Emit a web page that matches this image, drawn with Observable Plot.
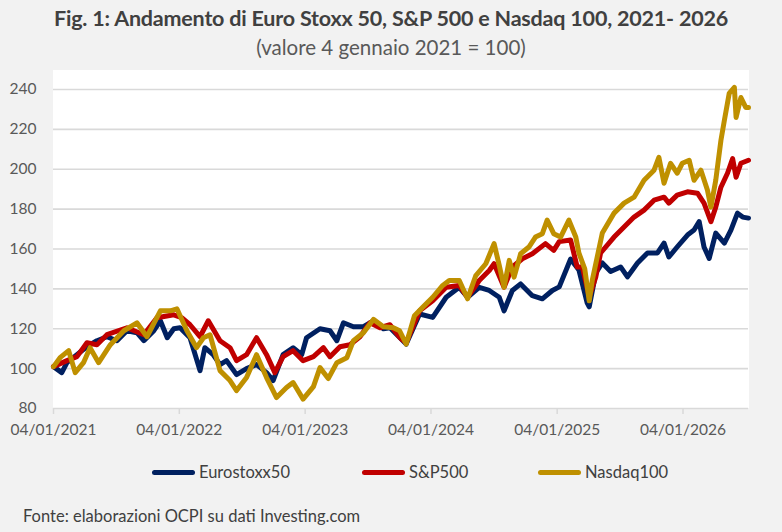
<!DOCTYPE html>
<html>
<head>
<meta charset="utf-8">
<script src="https://cdn.jsdelivr.net/npm/d3@7"></script>
<script src="https://cdn.jsdelivr.net/npm/@observablehq/plot@0.6"></script>
<style>
  html, body { margin: 0; padding: 0; background: #f2f2f2; }
  body { width: 782px; height: 532px; position: relative; overflow: hidden; font-family: Lato, "Open Sans", sans-serif; }
  #title { position: absolute; top: 5px; left: 0; width: 782px; text-align: center; font-size: 21.5px; font-weight: 700; color: #404040; letter-spacing: -0.2px; }
  #subtitle { position: absolute; top: 35px; left: 0; width: 782px; text-align: center; font-size: 20.5px; color: #595959; }
  #plotbg { position: absolute; left: 53px; top: 70px; width: 696px; height: 338px; background: #fff; }
  #chart { position: absolute; left: 0; top: 60px; }
  .leg { position: absolute; top: 462px; font-size: 16.5px; color: #404040; display: flex; align-items: center; }
  .sw { width: 43px; height: 5px; border-radius: 3px; margin-right: 4px; }
  #foot { position: absolute; left: 23px; top: 506px; font-size: 16.5px; color: #404040; }
</style>
</head>
<body>
<div id="title">Fig. 1: Andamento di Euro Stoxx 50, S&amp;P 500 e Nasdaq 100, 2021- 2026</div>
<div id="subtitle">(valore 4 gennaio 2021 = 100)</div>
<div id="plotbg"></div>
<div id="chart"></div>
<div class="leg" style="left:152px"><div class="sw" style="background:#002060"></div>Eurostoxx50</div>
<div class="leg" style="left:362px"><div class="sw" style="background:#C00000"></div>S&amp;P500</div>
<div class="leg" style="left:538px"><div class="sw" style="background:#BF9000"></div>Nasdaq100</div>
<div id="foot">Fonte: elaborazioni OCPI su dati Investing.com</div>
<script>
const seriesNames = ["Eurostoxx50", "S&P500", "Nasdaq100"];
const seriesColors = ["#002060", "#C00000", "#BF9000"];

const eurDates = ["2021-01-04","2021-01-28","2021-02-12","2021-03-13","2021-04-11","2021-05-10","2021-06-08","2021-07-07","2021-08-05","2021-09-03","2021-09-23","2021-10-22","2021-11-10","2021-11-30","2021-12-19","2022-01-06","2022-02-04","2022-03-05","2022-03-19","2022-04-12","2022-05-02","2022-05-21","2022-06-19","2022-07-18","2022-08-16","2022-09-14","2022-10-03","2022-11-01","2022-11-30","2022-12-25","2023-01-08","2023-02-16","2023-03-17","2023-04-06","2023-04-25","2023-05-24","2023-06-22","2023-07-21","2023-08-19","2023-09-07","2023-10-06","2023-10-24","2023-12-02","2024-01-09","2024-02-17","2024-03-26","2024-04-19","2024-05-23","2024-06-21","2024-07-20","2024-08-03","2024-08-27","2024-09-20","2024-10-24","2024-11-22","2024-12-21","2025-01-10","2025-02-12","2025-03-08","2025-04-01","2025-04-07","2025-04-26","2025-05-15","2025-06-08","2025-07-07","2025-07-27","2025-08-25","2025-09-23","2025-10-22","2025-11-10","2025-11-24","2025-12-18","2026-01-17","2026-02-05","2026-02-20","2026-03-06","2026-03-21","2026-04-09","2026-05-04","2026-05-23","2026-06-11","2026-06-26","2026-07-13"];
const eurValues = [101,98,103,107,111,114,116,114,119,118,114,119,124,115.5,120,120.5,115.5,99,110.5,107,102,104,97,100,102,98,94,107,110.5,107,115.5,120,119,114,123,121,121,124,120,120.5,115.5,112.3,127.4,125.7,135.8,140.8,135.8,140.8,139.2,135.8,129,139.2,142.5,136.6,135,139.2,141,155,149.5,133,131,148,153,148.7,151,146,153,158,158,163,156,161,167,169.5,173.7,161,155.3,168,163,169.5,178,176,175.5];

const spxDates = ["2021-01-04","2021-02-12","2021-03-13","2021-04-11","2021-05-10","2021-06-08","2021-08-05","2021-09-23","2021-10-31","2021-12-19","2022-01-11","2022-02-04","2022-03-05","2022-03-29","2022-05-02","2022-05-31","2022-06-19","2022-07-18","2022-08-16","2022-09-14","2022-10-08","2022-11-01","2022-11-30","2022-12-29","2023-01-28","2023-02-26","2023-03-17","2023-04-15","2023-05-14","2023-06-12","2023-07-11","2023-08-09","2023-09-07","2023-10-06","2023-10-24","2023-12-02","2024-01-09","2024-02-17","2024-03-26","2024-04-19","2024-05-23","2024-06-21","2024-07-05","2024-08-03","2024-08-27","2024-09-25","2024-10-24","2024-12-01","2024-12-25","2025-01-10","2025-02-12","2025-03-03","2025-03-18","2025-04-07","2025-04-26","2025-05-10","2025-06-18","2025-07-17","2025-08-15","2025-09-13","2025-10-12","2025-11-10","2025-11-24","2025-12-18","2026-01-17","2026-02-15","2026-03-06","2026-03-26","2026-04-09","2026-04-24","2026-05-13","2026-05-28","2026-06-07","2026-06-21","2026-07-13"];
const spxValues = [101,104,106,113,112,117,120.5,117,125.5,127,125.5,122,116,124,114,110.5,104,107,115.5,107,98,106,109,104,106,110.5,106,111,112,116,123,120.5,122,115.5,113,129,134,140.8,141.7,135.8,144.2,149.2,152.6,140.8,151,155.1,157.6,162.7,159.3,163.7,164.5,151,151,136,146,158,166,171,176,179.5,184.5,186,183,187,188.7,188,183,173.7,181,191,198,205.3,196,203,204.5];

const ndxDates = ["2021-01-04","2021-01-23","2021-02-17","2021-03-08","2021-04-01","2021-04-20","2021-05-15","2021-06-18","2021-07-27","2021-09-03","2021-10-02","2021-11-10","2021-12-09","2021-12-28","2022-01-26","2022-02-23","2022-03-15","2022-04-03","2022-05-02","2022-05-31","2022-06-19","2022-07-18","2022-08-16","2022-09-14","2022-10-13","2022-11-11","2022-11-30","2022-12-29","2023-01-28","2023-02-16","2023-03-12","2023-04-06","2023-05-05","2023-05-24","2023-06-22","2023-07-21","2023-08-19","2023-09-17","2023-10-05","2023-10-24","2023-11-17","2023-12-11","2024-01-09","2024-02-07","2024-02-26","2024-03-26","2024-04-19","2024-05-13","2024-06-11","2024-07-05","2024-07-20","2024-08-03","2024-08-18","2024-09-01","2024-09-20","2024-10-14","2024-11-02","2024-11-22","2024-12-06","2024-12-25","2025-01-14","2025-02-07","2025-02-27","2025-03-08","2025-03-25","2025-04-07","2025-04-16","2025-05-15","2025-06-18","2025-07-17","2025-08-15","2025-09-13","2025-10-12","2025-10-26","2025-11-10","2025-11-29","2025-12-18","2026-01-02","2026-01-22","2026-02-05","2026-02-25","2026-03-16","2026-03-26","2026-04-09","2026-04-24","2026-05-04","2026-05-18","2026-06-02","2026-06-07","2026-06-21","2026-07-05","2026-07-13"];
const ndxValues = [101,105.5,109,98,103,110.5,103,112,119,123,116,129,129,130,119,110.5,115.5,117,99,94,89,95.5,107,95.5,85.5,90.5,93,84.7,91,100.5,95,103,105.5,114,118,124.7,121,120.5,119,112.3,126.5,130.8,135.8,141.7,144.2,144.2,135,146.7,152.6,162.7,151.8,140.8,154.3,145.9,157.6,161,166,167.7,174.5,167.7,166,174.5,166,158,150,134,144.5,168,178,183,186,194.5,199.5,206,193,203,198,203,204.5,194.5,199.5,189.5,181,194.5,214.5,224.5,238,241,226,236,231,231];

const yTicks = [80, 100, 120, 140, 160, 180, 200, 220, 240];
const xTickLabels = ["2021-01-04","2022-01-04","2023-01-04","2024-01-04","2025-01-04","2026-01-04"];
const xDomain = ["2021-01-04", "2026-07-13"];

const parse = d3.utcParse("%Y-%m-%d");
const rows = [];
[[eurDates, eurValues], [spxDates, spxValues], [ndxDates, ndxValues]].forEach(([ds, vs], i) => {
  ds.forEach((d, j) => rows.push({series: seriesNames[i], date: parse(d), value: vs[j]}));
});

const fmt = d3.utcFormat("%d/%m/%Y");
const chart = Plot.plot({
  width: 782,
  height: 390,
  marginLeft: 53,
  marginRight: 34,
  marginTop: 29,
  marginBottom: 42,
  style: {background: "transparent", fontFamily: "Lato, 'Open Sans', sans-serif"},
  x: {type: "utc", domain: xDomain.map(parse)},
  y: {domain: [80, 240]},
  color: {domain: seriesNames, range: seriesColors},
  marks: [
    Plot.ruleY(yTicks, {stroke: "#d9d9d9", strokeWidth: 1.6}),
    Plot.axisY(yTicks, {tickSize: 0, tickPadding: 17, fontSize: 15.5, fill: "#595959", label: null}),
    Plot.axisX(xTickLabels.map(parse), {tickSize: 6, stroke: "#d9d9d9", strokeWidth: 1.5, tickPadding: 9, fontSize: 15.5, fill: "#595959", tickFormat: fmt, label: null}),
    Plot.lineY(rows, {x: "date", y: "value", z: "series", stroke: "series", strokeWidth: 5, strokeLinejoin: "round", strokeLinecap: "round"})
  ]
});
document.getElementById("chart").appendChild(chart);
</script>
</body>
</html>
